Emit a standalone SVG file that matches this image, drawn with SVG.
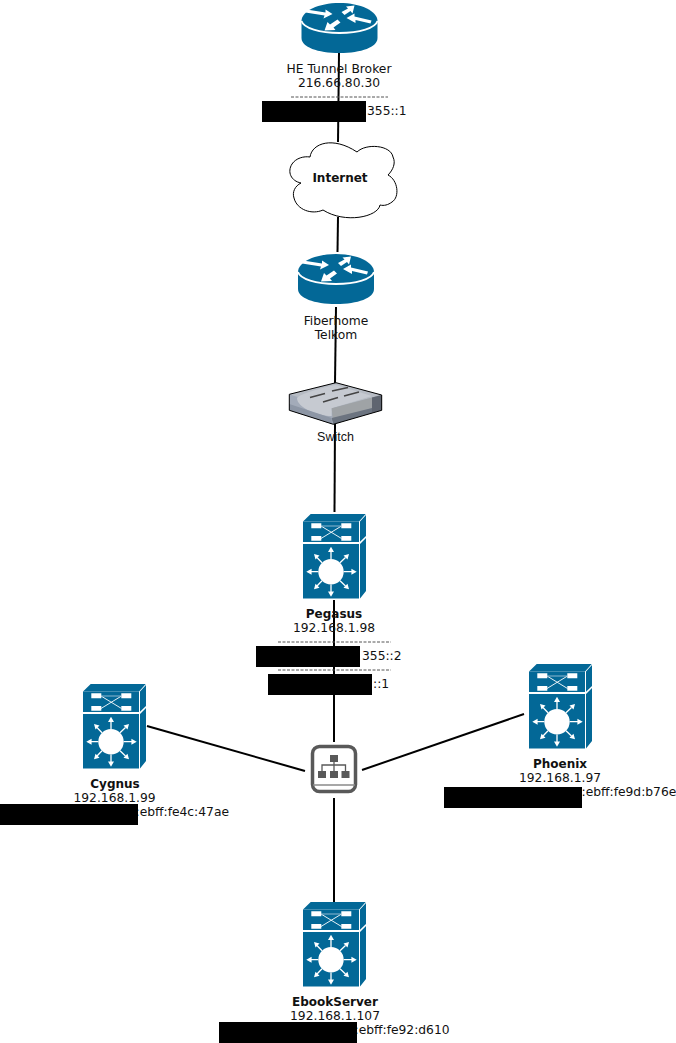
<svg xmlns="http://www.w3.org/2000/svg" width="676" height="1043" viewBox="0 0 676 1043">
<style>
text{font-family:"DejaVu Sans",Verdana,sans-serif;font-size:12.3px;fill:#111;text-anchor:middle}
.b{font-weight:bold;font-size:12px}
.s{font-family:"Liberation Sans",Arial,sans-serif;font-size:12.5px}
.l{text-anchor:start}
.c line{stroke:#000;stroke-width:2}
.d{stroke:#555;stroke-width:1;stroke-dasharray:3 1.500}
.bk{fill:#000}
.w{fill:#fff}
.bl{fill:#036897}
</style>
<defs>
<g id="router">
<path class="bl" d="M0 18C0 8 17 0 38 0S76 8 76 18V35C76 44 60 50 38 50S0 44 0 35Z"/>
<path d="M0 18C2 25 18 30 38 30S74 25 76 18" fill="none" stroke="#fff" stroke-width="1.800"/>
<path class="w" d="M5 6.500L4 9.500L23 12.500L22 15.500L31 11L24 6.500L24 9.500ZM40 9L43 12L49 8L51 10.500L53 2.500L44.500 3.500L46.500 5.500ZM70 17.500L69 20.500L54 17L54 20L45 15L53 10.500L53 13.500ZM36 16.500L39 19.500L32 24.500L34 27L23 27.500L26 19L28.500 21.500Z"/>
</g>
<g id="l3">
<path class="bl" d="M0 7.500L7.700 0H62.700L56 7.500ZM57 7.500L63 1V22L57 27.700ZM57 30L63 24V77L57 84.500Z"/>
<rect class="bl" y="7.500" width="56" height="20.500"/>
<rect class="bl" y="30" width="56" height="54.500"/>
<path class="w" d="M8.300 9.300H18.300V14.300H8.300ZM38.300 9.300H48.300V14.300H38.300ZM8.300 22H18.300V26.700H8.300ZM38.300 22H48.300V26.700H38.300Z"/>
<path d="M18 12L38.500 24.500M18 24.500L38.500 12" stroke="#fff" stroke-width=".9" fill="none"/>
<path d="M18 12H38.500" stroke="#8fb8cf" stroke-width="1" fill="none"/>
<circle class="w" cx="28" cy="57.700" r="12.700"/>
<path d="M28 45V37M28 70.500V78M15.300 57.700H8M40.700 57.700H49M19 48.700L14 43.500M37 48.700L42.500 43.500M19 66.700L14 72M37 66.700L42.500 72" stroke="#fff" stroke-width="1.300" fill="none"/>
<path class="w" d="M28 32.700L31 38H25ZM28 82.700L25 77.400H31ZM3.300 57.700L8.600 54.700V60.700ZM53.700 57.700L48.400 54.700V60.700ZM11 40L16.500 41.500L12.500 45.500ZM46 40L44.500 45.500L40.500 41.500ZM11 75.300L12.500 69.800L16.500 73.800ZM46 75.300L40.500 73.800L44.500 69.800Z"/>
</g>
</defs>
<g id="connectors" class="c">
<line x1="339" y1="53" x2="338" y2="142"/>
<line x1="338" y1="217" x2="337.500" y2="252"/>
<line x1="336" y1="307" x2="335" y2="383"/>
<line x1="335" y1="424" x2="334.500" y2="512"/>
<line x1="334" y1="600" x2="334" y2="742"/>
<line x1="147" y1="726" x2="305" y2="771"/>
<line x1="362" y1="770" x2="524" y2="714"/>
<line x1="334" y1="798" x2="334" y2="902"/>
</g>
<g id="he-tunnel-broker">
<use href="#router" x="301.500" y="3"/>
<text x="339" y="73">HE Tunnel Broker</text>
<text x="339" y="87">216.66.80.30</text>
<line class="d" x1="291" y1="97" x2="388" y2="97"/>
<text class="l" x="367" y="115">355::1</text>
<rect class="bk" x="262" y="101" width="104" height="21"/>
</g>
<g id="internet">
<path d="M310 157C312 143 333 136 357 152C366 143 391 145 393 157C396 163 393 170 388 175C398 180 400 197 392 202C388 205 384 206 380 205C378 217 345 224 323 210C312 215 297 210 294 198C292 192 295 186 301 183C291 181 287 172 292 164C296 158 304 156 310 157Z" fill="#fff" stroke="#000" stroke-width="1"/>
<text class="b" x="340" y="182">Internet</text>
</g>
<g id="fiberhome">
<use href="#router" x="298" y="254"/>
<text x="336" y="325">Fiberhome</text>
<text x="336" y="339">Telkom</text>
</g>
<g id="switch">
<path d="M289.300 394.300L336 382.700L381.700 395V410.300L333.300 424.300L289.300 410.300Z" fill="#a3abb9"/>
<path d="M289.300 394.300L336 382.700L381.700 395L331.700 408.300Z" fill="#b7bcc4"/>
<path d="M297 398C300 394 320 388 336 385L372 396L331.700 408.300V416C318 416 297 408 297 398Z" fill="#c6cad1"/>
<path d="M331.700 408.300L381.700 395V410.300L333.300 424.300Z" fill="#9fa3a6"/>
<path d="M372 397.500L381.700 395V410.300L372 413Z" fill="#5f6570"/>
<path d="M331.700 418L372 408V413L333.300 424.300Z" fill="#6c7480"/>
<path d="M289.300 404L331.700 418V424L289.300 410.300Z" fill="#8d96a5"/>
<path d="M289.300 394.300L336 382.700L381.700 395V410.300L333.300 424.300L289.300 410.300Z" fill="none" stroke="#000" stroke-width="1"/>
<path d="M310 397.500L325 393.500M332 391L348 387.500M323 402L338 397.500M344 396L359 392" stroke="#444" stroke-width="1.600"/>
<text class="s" x="335.500" y="441">Switch</text>
</g>
<g id="pegasus">
<use href="#l3" x="303" y="514"/>
<text class="b" x="334" y="618">Pegasus</text>
<text x="334" y="632">192.168.1.98</text>
<line class="d" x1="278" y1="642" x2="391" y2="642"/>
<text class="l" x="362" y="660">355::2</text>
<rect class="bk" x="256" y="646" width="104" height="21"/>
<line class="d" x1="278" y1="670" x2="391" y2="670"/>
<text class="l" x="373" y="688">::1</text>
<rect class="bk" x="268" y="674" width="104" height="21"/>
</g>
<g id="hub">
<rect x="312.500" y="746.500" width="43" height="45" rx="7" fill="#fff" stroke="#595959" stroke-width="3.500"/>
<path d="M313 785H355" stroke="#8a8a8a" stroke-width="1.500"/>
<path d="M334 762V772M322 772V765H345.500V772" fill="none" stroke="#595959" stroke-width="1.300"/>
<rect x="330" y="755" width="8" height="7" fill="#595959"/>
<rect x="318" y="771" width="8" height="7" fill="#595959"/>
<rect x="330" y="771" width="8" height="7" fill="#595959"/>
<rect x="341.500" y="771" width="8" height="7" fill="#595959"/>
</g>
<g id="cygnus">
<use href="#l3" x="83" y="684"/>
<text class="b" x="115" y="787.500">Cygnus</text>
<text x="114.500" y="802">192.168.1.99</text>
<text class="l" x="135.500" y="816">:ebff:fe4c:47ae</text>
<rect class="bk" x="0" y="804" width="138" height="21"/>
</g>
<g id="phoenix">
<use href="#l3" x="529" y="664"/>
<text class="b" x="560" y="767.500">Phoenix</text>
<text x="560" y="781.500">192.168.1.97</text>
<text class="l" x="581.500" y="796">:ebff:fe9d:b76e</text>
<rect class="bk" x="444" y="787" width="138" height="21"/>
</g>
<g id="ebookserver">
<use href="#l3" x="303" y="902"/>
<text class="b" x="335" y="1005.500">EbookServer</text>
<text x="335" y="1019.500">192.168.1.107</text>
<text class="l" x="354.500" y="1034">:ebff:fe92:d610</text>
<rect class="bk" x="219" y="1022" width="138" height="21"/>
</g>
</svg>
